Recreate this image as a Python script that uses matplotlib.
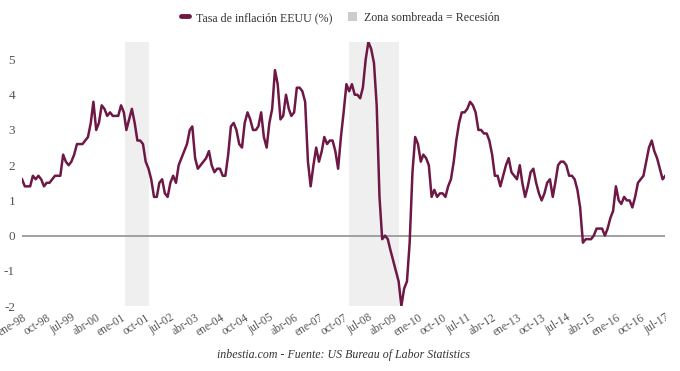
## US inflation chart with recession shading
import matplotlib
matplotlib.use("Agg")
import matplotlib.pyplot as plt
from matplotlib.lines import Line2D
from matplotlib.patches import Patch
import pandas as pd

# Monthly inflation rate (%), Jan 1998 - Jul 2017
inflation = [
    1.6, 1.4, 1.4, 1.4, 1.7, 1.6, 1.7, 1.6, 1.4, 1.5, 1.5, 1.6,   # 1998
    1.7, 1.7, 1.7, 2.3, 2.1, 2.0, 2.1, 2.3, 2.6, 2.6, 2.6, 2.7,   # 1999
    2.8, 3.2, 3.8, 3.0, 3.2, 3.7, 3.6, 3.4, 3.5, 3.4, 3.4, 3.4,   # 2000
    3.7, 3.5, 3.0, 3.3, 3.6, 3.2, 2.7, 2.7, 2.6, 2.1, 1.9, 1.6,   # 2001
    1.1, 1.1, 1.5, 1.6, 1.2, 1.1, 1.5, 1.7, 1.5, 2.0, 2.2, 2.4,   # 2002
    2.6, 3.0, 3.1, 2.2, 1.9, 2.0, 2.1, 2.2, 2.4, 2.0, 1.8, 1.9,   # 2003
    1.9, 1.7, 1.7, 2.3, 3.1, 3.2, 3.0, 2.6, 2.5, 3.2, 3.5, 3.3,   # 2004
    3.0, 3.0, 3.1, 3.5, 2.8, 2.5, 3.2, 3.6, 4.7, 4.3, 3.3, 3.4,   # 2005
    4.0, 3.6, 3.4, 3.5, 4.2, 4.2, 4.1, 3.8, 2.1, 1.4, 2.0, 2.5,   # 2006
    2.1, 2.4, 2.8, 2.6, 2.7, 2.7, 2.4, 1.9, 2.8, 3.5, 4.3, 4.1,   # 2007
    4.3, 4.0, 4.0, 3.9, 4.2, 5.0, 5.5, 5.3, 4.9, 3.7, 1.1, -0.1,  # 2008
    0.0, -0.1, -0.4, -0.7, -1.0, -1.3, -2.0, -1.5, -1.3, -0.2, 1.8, 2.8,  # 2009
    2.6, 2.1, 2.3, 2.2, 2.0, 1.1, 1.3, 1.1, 1.2, 1.2, 1.1, 1.4,   # 2010
    1.6, 2.1, 2.7, 3.2, 3.5, 3.5, 3.6, 3.8, 3.7, 3.5, 3.0, 3.0,   # 2011
    2.9, 2.9, 2.7, 2.3, 1.7, 1.7, 1.4, 1.7, 2.0, 2.2, 1.8, 1.7,   # 2012
    1.6, 2.0, 1.5, 1.1, 1.4, 1.8, 1.9, 1.5, 1.2, 1.0, 1.2, 1.5,   # 2013
    1.6, 1.1, 1.5, 2.0, 2.1, 2.1, 2.0, 1.7, 1.7, 1.6, 1.3, 0.8,   # 2014
    -0.2, -0.1, -0.1, -0.1, 0.0, 0.2, 0.2, 0.2, 0.0, 0.2, 0.5, 0.7,  # 2015
    1.4, 1.0, 0.9, 1.1, 1.0, 1.0, 0.8, 1.1, 1.5, 1.6, 1.7, 2.1,   # 2016
    2.5, 2.7, 2.4, 2.2, 1.9, 1.6, 1.7,                            # 2017
]
start_month = "1998-01-01"

# Recession periods
recessions = [("2001-02-15", "2001-11-01"), ("2007-12-01", "2009-06-01")]

tick_labels = ["ene-98", "oct-98", "jul-99", "abr-00", "ene-01", "oct-01", "jul-02",
               "abr-03", "ene-04", "oct-04", "jul-05", "abr-06", "ene-07", "oct-07",
               "jul-08", "abr-09", "ene-10", "oct-10", "jul-11", "abr-12", "ene-13",
               "oct-13", "jul-14", "abr-15", "ene-16", "oct-16", "jul-17"]
yticks = [-2, -1, 0, 1, 2, 3, 4, 5]

dates = pd.date_range(start_month, periods=len(inflation), freq="MS")
tick_dates = dates[::9]

plt.rcParams['font.family'] = ['Liberation Serif', 'DejaVu Serif']

fig = plt.figure(figsize=(6.8, 3.71), dpi=100)
ax = fig.add_axes([0.0324, 0.175, 0.946, 0.712])

line_color = '#6e1846'
for start, end in recessions:
    ax.axvspan(pd.Timestamp(start), pd.Timestamp(end), color='#efefef', lw=0, zorder=0)

ax.axhline(0, color='#9a9a9a', lw=1.3, zorder=1)
ax.plot(dates, inflation, color=line_color, lw=1.8, zorder=2, solid_joinstyle='round')

ax.set_xlim(dates[0], dates[-1])
ax.set_ylim(-2, 5.5)
ax.set_yticks(yticks)
ax.set_yticklabels([str(v) for v in yticks], fontsize=9.5, color='#555555')
ax.set_xticks(tick_dates)
ax.set_xticklabels(tick_labels, rotation=32, ha='right', rotation_mode='anchor',
                   fontsize=8.3, color='#555555')
ax.tick_params(axis='both', length=0, pad=4)
ax.tick_params(axis='y', pad=5)
for s in ax.spines.values():
    s.set_visible(False)

handles = [Line2D([0], [0], color=line_color, lw=3.5, solid_capstyle='round'),
           Patch(facecolor='#cccccc', edgecolor='none')]
fig.legend(handles, ['Tasa de inflación EEUU (%)', 'Zona sombreada = Recesión'],
           loc='center', bbox_to_anchor=(0.5, 0.952), ncol=2, frameon=False,
           fontsize=8.6, handlelength=0.7, handleheight=0.8, handletextpad=0.6,
           columnspacing=1.3, labelcolor='#333333')

fig.text(0.505, 0.043, 'inbestia.com - Fuente: US Bureau of Labor Statistics',
         ha='center', va='center', fontsize=8.6, style='italic', color='#333333')

fig.savefig('out.png', dpi=100)
